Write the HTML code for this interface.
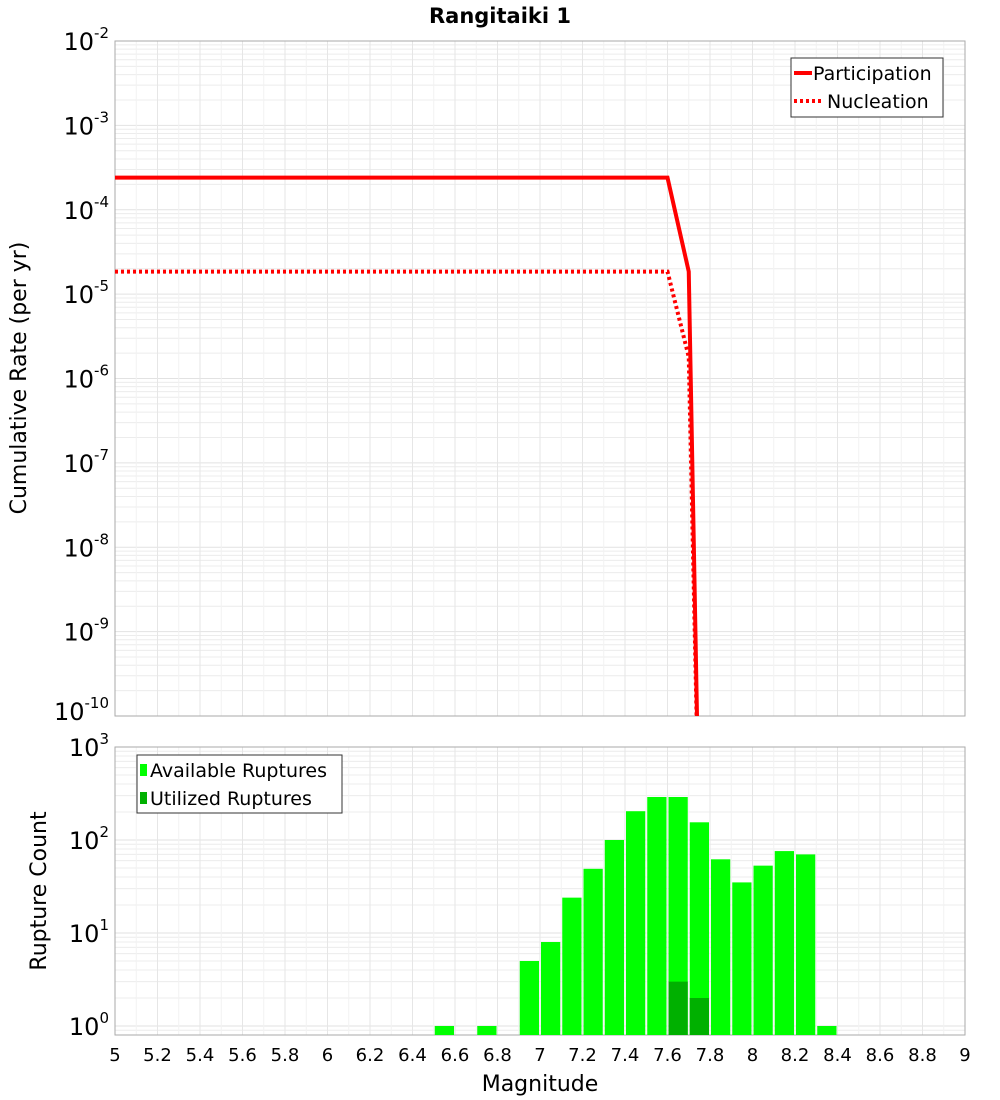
<!DOCTYPE html>
<html><head><meta charset="utf-8"><style>
body{margin:0;background:#fff;font-family:"Liberation Sans","DejaVu Sans",sans-serif}
svg{display:block}
</style></head><body>
<svg id="c" width="1000" height="1100" viewBox="0 0 1000 1100" xmlns="http://www.w3.org/2000/svg" font-family="DejaVu Sans, Liberation Sans, sans-serif">
<text x="500" y="23" text-anchor="middle" font-size="21" font-weight="bold">Rangitaiki 1</text>
<text transform="translate(26,378) rotate(-90)" text-anchor="middle" font-size="22">Cumulative Rate (per yr)</text>
<text transform="translate(46,891) rotate(-90)" text-anchor="middle" font-size="22">Rupture Count</text>
<text x="540" y="1091" text-anchor="middle" font-size="22">Magnitude</text>
<g id="gtop"></g><g id="gbot"></g>
</svg>
<script>
const NS="http://www.w3.org/2000/svg";
const partMag=[5,7.6,7.7,7.75];
const partRate=[2.4e-4,2.4e-4,1.85e-5,3e-12];
const nuclMag=[5,7.6,7.7,7.75];
const nuclRate=[1.85e-5,1.85e-5,1.8e-6,3e-12];
const binMag=[6.55,6.75,6.95,7.05,7.15,7.25,7.35,7.45,7.55,7.65,7.75,7.85,7.95,8.05,8.15,8.25,8.35];
const availCount=[1,1,5,8,24,49,100,204,290,290,155,62,35,53,76,70,1];
const utilMag=[7.65,7.75];
const utilCount=[3,2];
const xTicks=["5","5.2","5.4","5.6","5.8","6","6.2","6.4","6.6","6.8","7","7.2","7.4","7.6","7.8","8","8.2","8.4","8.6","8.8","9"];
const X0=115,X1=965;
const x=m=>X0+(m-5)/4*(X1-X0);
const T0=41,T1=716; const yT=v=>T0+(-2-Math.log10(v))/8*(T1-T0);
const B0=747,BONE=1026,B1=1035; const yB=v=>BONE-Math.log10(v)*(BONE-B0)/3;
function el(t,a,p){const e=document.createElementNS(NS,t);for(const k in a)e.setAttribute(k,a[k]);p.appendChild(e);return e;}
const gTop=document.getElementById('gtop'),gBot=document.getElementById('gbot');
const defs=el('defs',{},document.getElementById('c'));
const cp=el('clipPath',{id:'ct'},defs);el('rect',{x:X0,y:T0,width:X1-X0,height:T1-T0},cp);
const cb=el('clipPath',{id:'cb'},defs);el('rect',{x:X0,y:B0,width:X1-X0,height:B1-B0},cb);
function grid(g,y0,y1,ymap,dmin,dmax,vmin){
  for(let d=dmin;d<dmax;d++)for(let k=1;k<10;k++){const v=k*Math.pow(10,d);if(v<vmin)continue;const yy=ymap(v);if(yy>y1)continue;
    const l=el('line',{x1:X0,x2:X1,y1:yy,y2:yy,stroke:k==1?'#e2e2e2':'#ececec','stroke-width':1},g);
    
    }
  for(let i=0;i<=40;i++){const xx=x(5+i*0.1);const l=el('line',{x1:xx,x2:xx,y1:y0,y2:y1,stroke:i%2?'#f2f2f2':'#e6e6e6','stroke-width':1},g);
    
    }
}
grid(gTop,T0,T1,yT,-10,-2,1e-10);
grid(gBot,B0,B1,yB,-1,3,0.8);
let r=el('rect',{x:X0,y:T0,width:X1-X0,height:T1-T0,fill:'none',stroke:'#aaa'},gTop);


r=el('rect',{x:X0,y:B0,width:X1-X0,height:B1-B0,fill:'none',stroke:'#aaa'},gBot);


function supLabel(g,xx,yy,exp,name){
  const t=el('text',{x:xx,y:yy,'text-anchor':'end','font-size':24},g);
  
  
  t.appendChild(document.createTextNode('10'));
  const s=el('tspan',{dy:-12,'font-size':15},t);s.textContent=String(exp);
}
for(let d=-10;d<=-2;d++)supLabel(gTop,X0-6,yT(Math.pow(10,d))+(d==-10?4:9),d,'top-y-tick-label');
for(let d=0;d<=3;d++)supLabel(gBot,X0-6,yB(Math.pow(10,d))+9,d,'bottom-y-tick-label');
xTicks.forEach(s=>{const t=el('text',{x:x(+s),y:1061,'text-anchor':'middle','font-size':18},gBot);
  
  
  t.textContent=s;});
function line(ms,vs,dash,name){const p=el('polyline',{points:ms.map((m,i)=>x(m)+','+yT(vs[i])).join(' '),fill:'none',stroke:'#ff0000','stroke-width':4,'clip-path':'url(#ct)'},gTop);
  if(dash)p.setAttribute('stroke-dasharray','3,3');
  
  }
line(partMag,partRate,false,'participation-line');
line(nuclMag,nuclRate,true,'nucleation-line');
binMag.forEach((m,i)=>{const x0=x(m-0.05)+1,x1=x(m+0.05)-1;const b=el('rect',{x:x0,y:yB(availCount[i]),width:x1-x0,height:B1-yB(availCount[i]),fill:'#00ff00','clip-path':'url(#cb)'},gBot);
  
  });
utilMag.forEach((m,i)=>{const x0=x(m-0.05)+1,x1=x(m+0.05)-1;const b=el('rect',{x:x0,y:yB(utilCount[i]),width:x1-x0,height:B1-yB(utilCount[i]),fill:'#00b000'},gBot);
  
  });
let g=el('g',{},gTop);


el('rect',{x:791,y:58,width:152,height:59,fill:'#fff',stroke:'#333'},g);
el('line',{x1:794,x2:812,y1:73,y2:73,stroke:'#f00','stroke-width':4},g);
el('line',{x1:794,x2:822,y1:101,y2:101,stroke:'#f00','stroke-width':4,'stroke-dasharray':'3,3'},g);
let t=el('text',{x:813,y:80,'font-size':19},g);t.textContent='Participation';


t=el('text',{x:827,y:108,'font-size':19},g);t.textContent='Nucleation';


g=el('g',{},gBot);


el('rect',{x:137,y:755,width:205,height:58,fill:'#fff',stroke:'#333'},g);
el('rect',{x:140,y:764,width:7,height:12,fill:'#00ff00'},g);
el('rect',{x:140,y:792,width:7,height:12,fill:'#00b000'},g);
t=el('text',{x:150,y:777,'font-size':19},g);t.textContent='Available Ruptures';


t=el('text',{x:150,y:805,'font-size':19},g);t.textContent='Utilized Ruptures';


</script>
</body></html>
